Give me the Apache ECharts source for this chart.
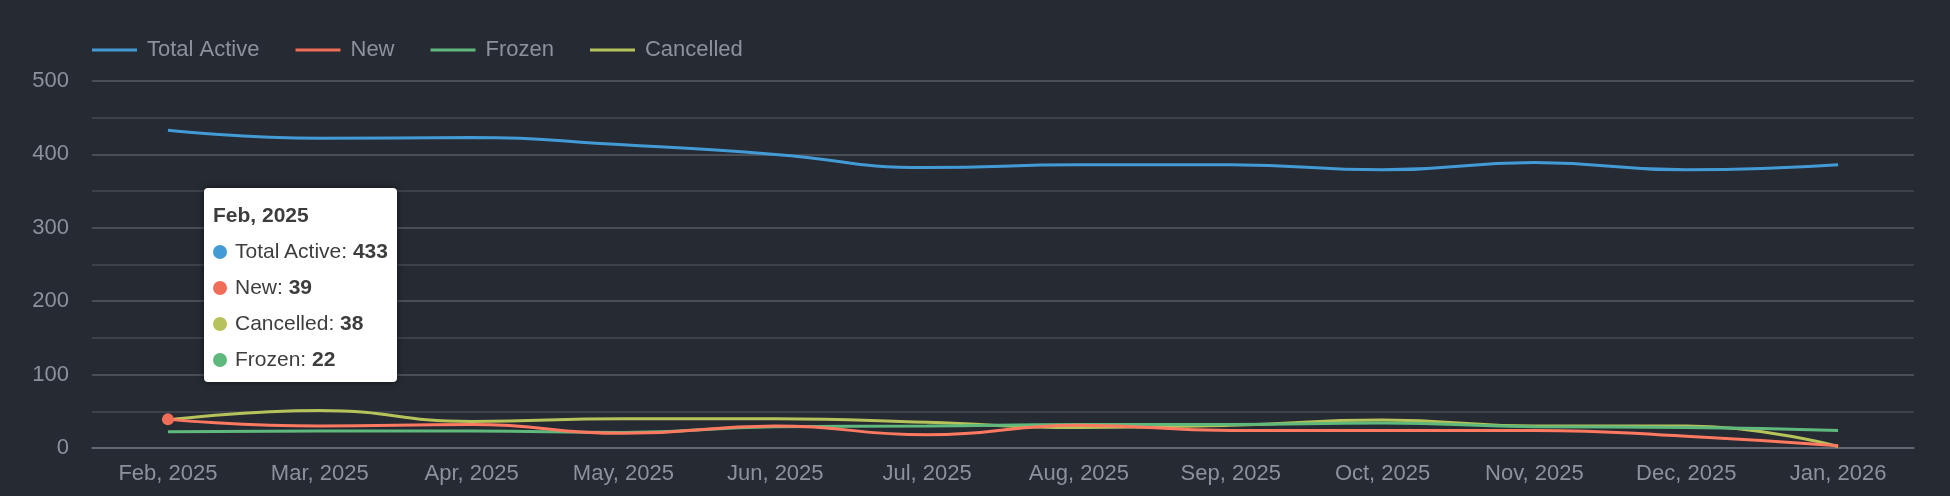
<!DOCTYPE html>
<html>
<head>
<meta charset="utf-8">
<title>Subscriptions</title>
<script src="https://cdn.jsdelivr.net/npm/echarts@6/dist/echarts.min.js"></script>
<style>
    html, body { margin: 0; padding: 0; background: #262a33; }
    #subs_line { width: 1950px; height: 496px; }
</style>
</head>
<body>
<div id="subs_line"></div>
<script>
// Chart data
// ------------------------------

var months = ['Feb, 2025', 'Mar, 2025', 'Apr, 2025', 'May, 2025', 'Jun, 2025', 'Jul, 2025',
              'Aug, 2025', 'Sep, 2025', 'Oct, 2025', 'Nov, 2025', 'Dec, 2025', 'Jan, 2026'];

var totalActive = [433, 422, 423, 413, 400, 382, 386, 386, 379, 389, 379, 386];
var newSubs     = [39, 30, 32, 20, 30, 18, 31, 24, 24, 24, 16, 3];
var cancelled   = [38, 51, 36, 40, 40, 35, 28, 31, 38, 30, 30, 2];
var frozen      = [22, 23, 23, 21, 29, 30, 32, 32, 34, 29, 28, 24];

var legendOrder = ['Total Active', 'New', 'Frozen', 'Cancelled'];


// Setup module
// ------------------------------

var SubsLineDark = function() {

    var _subsLineExample = function() {
        if (typeof echarts == 'undefined') {
            console.warn('Warning - echarts.min.js is not loaded.');
            return;
        }

        var subs_element = document.getElementById('subs_line');
        if (!subs_element) {
            return;
        }

        var subs_chart = echarts.init(subs_element);

        // Common line series settings
        var makeSeries = function(name, color, data) {
            return {
                name: name,
                type: 'line',
                smooth: true,
                showSymbol: false,
                symbol: 'circle',
                symbolSize: 12,
                color: color,
                lineStyle: { width: 3, color: color },
                itemStyle: { color: color },
                emphasis: { scale: false, lineStyle: { width: 3 } },
                data: data
            };
        };

        subs_chart.setOption({

            backgroundColor: '#262a33',

            textStyle: {
                fontFamily: '"Liberation Sans", Arial, sans-serif',
                fontSize: 22
            },

            animation: false,

            grid: {
                left: 92,
                right: 36,
                top: 81,
                bottom: 48
            },

            legend: {
                data: legendOrder,
                left: 87,
                top: 34,
                icon: 'rect',
                itemWidth: 45,
                itemHeight: 3,
                itemGap: 36,
                textStyle: {
                    color: '#8c919c',
                    fontSize: 22,
                    padding: [0, 0, 0, 5]
                }
            },

            tooltip: {
                trigger: 'axis',
                alwaysShowContent: true,
                axisPointer: { type: 'none', triggerEmphasis: false },
                position: [204, 188],
                backgroundColor: '#ffffff',
                borderColor: '#ffffff',
                borderWidth: 0,
                borderRadius: 4,
                padding: [9, 9, 5, 9],
                extraCssText: 'box-shadow: 0 0 6px rgba(0,0,0,0.6);',
                formatter: function(params) {
                    var html = '<div style="font:bold 21px \'Liberation Sans\', Arial, sans-serif;color:#3d3d3d;line-height:36px;">' +
                        params[0].axisValue + '</div>';
                    params.forEach(function(p) {
                        html += '<div style="font:21px \'Liberation Sans\', Arial, sans-serif;color:#3d3d3d;line-height:36px;white-space:nowrap;">' +
                            '<span style="display:inline-block;width:14px;height:14px;border-radius:7px;margin-right:8px;vertical-align:-1px;background:' +
                            p.color + ';"></span>' + p.seriesName + ': <b>' + p.value + '</b></div>';
                    });
                    return html;
                }
            },

            xAxis: [{
                type: 'category',
                boundaryGap: true,
                data: months,
                axisTick: { show: false },
                axisLine: {
                    lineStyle: { color: '#6e727c', width: 1.5 }
                },
                axisLabel: {
                    color: '#8c919c',
                    fontSize: 22,
                    margin: 15
                }
            }],

            yAxis: [{
                type: 'value',
                min: 0,
                max: 500,
                interval: 100,
                axisLine: { show: false },
                axisTick: { show: false },
                axisLabel: {
                    color: '#8c919c',
                    fontSize: 22,
                    margin: 23
                },
                splitLine: {
                    lineStyle: { color: '#575b64', width: 1.5 }
                },
                minorTick: { show: false, splitNumber: 2 },
                minorSplitLine: {
                    show: true,
                    lineStyle: { color: '#464a53', width: 1.5 }
                }
            }],

            // Series order matches the tooltip order
            series: [
                makeSeries('Total Active', '#439bd6', totalActive),
                makeSeries('New', '#f06e58', newSubs),
                makeSeries('Cancelled', '#b6c35a', cancelled),
                makeSeries('Frozen', '#5fb87c', frozen)
            ]
        });

        // Show the tooltip for the first month, keep only the New point marked
        subs_chart.dispatchAction({ type: 'showTip', seriesIndex: 0, dataIndex: 0 });
        subs_chart.dispatchAction({ type: 'downplay', seriesIndex: [0, 2, 3], dataIndex: 0 });
        subs_chart.dispatchAction({ type: 'highlight', seriesIndex: 1, dataIndex: 0 });
    };

    return {
        init: function() {
            _subsLineExample();
        }
    }
}();


// Initialize module
// ------------------------------

document.addEventListener('DOMContentLoaded', function() {
    SubsLineDark.init();
});
</script>
</body>
</html>
